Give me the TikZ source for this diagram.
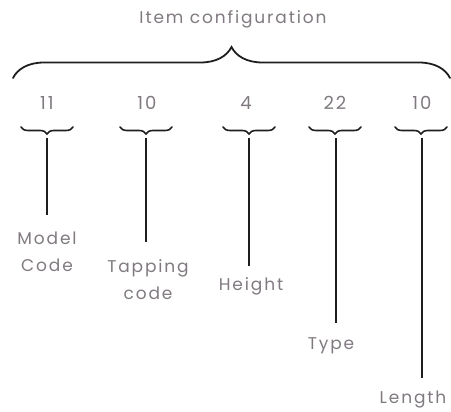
\documentclass[tikz,border=0pt]{standalone}
\usepackage{fontspec}
\setmainfont[LetterSpace=11]{Poppins}
\usetikzlibrary{decorations.pathreplacing}
\definecolor{txt}{RGB}{128,122,128}
\definecolor{ink}{RGB}{30,30,30}
\begin{document}
\begin{tikzpicture}[x=1pt,y=-1pt,line cap=round]
	\tikzstyle{word}=[text=txt,inner sep=0pt,anchor=base,align=center,font=\fontsize{17}{27}\selectfont];
	\tikzstyle{digit}=[word,font=\fontsize{18}{20}\selectfont];
	\tikzstyle{bigbrace}=[draw=ink,line width=1.8pt,decorate,decoration={brace,amplitude=31pt}];
	\tikzstyle{smallbrace}=[draw=ink,line width=1.6pt,decorate,decoration={brace,mirror,amplitude=7pt}];
	\tikzstyle{stem}=[draw=ink,line width=2.4pt,line cap=butt];
%<--------------------------------------------------------------------------->%
	\useasboundingbox (0,0) rectangle (451,412);
	\node[word] (title) at (233,24) {Item configuration};
	\coordinate (L) at (13,78);
	\coordinate (R) at (450,78);
	\draw[bigbrace] (L) -- (R);
	%% digits
	\node[digit] (n1) at (47,110) {11};
	\node[digit] (n2) at (147,110) {10};
	\node[digit] (n3) at (246,110) {4};
	\node[digit] (n4) at (335,110) {22};
	\node[digit] (n5) at (422,110) {10};
	%% small braces
	\draw[smallbrace] (21,127) -- (73,127);
	\draw[smallbrace] (120,127) -- (172,127);
	\draw[smallbrace] (223,127) -- (275,127);
	\draw[smallbrace] (309,127) -- (361,127);
	\draw[smallbrace] (395,127) -- (447,127);
	%% stems
	\coordinate (t1) at (47,138);  \coordinate (b1) at (47,215);
	\coordinate (t2) at (146,138); \coordinate (b2) at (146,242);
	\coordinate (t3) at (249,138); \coordinate (b3) at (249,266);
	\coordinate (t4) at (336,138); \coordinate (b4) at (336,323);
	\coordinate (t5) at (422,138); \coordinate (b5) at (422,378);
	\draw[stem] (t1) -- (b1);
	\draw[stem] (t2) -- (b2);
	\draw[stem] (t3) -- (b3);
	\draw[stem] (t4) -- (b4);
	\draw[stem] (t5) -- (b5);
	%% labels (base is the last line)
	\node[word] (l1) at (47,272) {Model\\Code};
	\node[word] (l2) at (148,300) {Tapping\\code};
	\node[word] (l3) at (251,291) {Height};
	\node[word] (l4) at (331,349) {Type};
	\node[word] (l5) at (413,404) {Length};
\end{tikzpicture}
\end{document}
